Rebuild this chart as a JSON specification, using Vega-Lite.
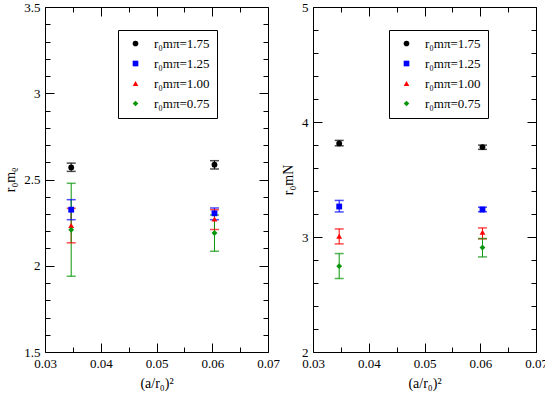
{
  "$schema": "https://vega.github.io/schema/vega-lite/v6.json",
  "padding": {"left": 3, "top": 0, "right": 0, "bottom": 0},
  "bounds": "flush",
  "spacing": 45,
  "config": {
    "font": "Liberation Serif, Times New Roman, DejaVu Serif, serif",
    "view": {"stroke": "black", "strokeWidth": 1},
    "axis": {"labelFont": "Liberation Serif, Times New Roman, DejaVu Serif, serif", "titleFont": "Liberation Serif, Times New Roman, DejaVu Serif, serif", "labelColor": "black", "titleColor": "black", "labelFontSize": 13, "titleFontSize": 14, "titleFontWeight": "normal", "grid": false, "tickColor": "black", "domain": false}
  },
  "resolve": {"scale": {"x": "independent", "y": "independent"}, "legend": {"color": "independent", "shape": "independent"}},
  "datasets": {
    "rho": [
      {"a2": 0.0347, "y": 2.570, "lo": 2.547, "hi": 2.595, "mpi": "1.75"},
      {"a2": 0.0604, "y": 2.586, "lo": 2.561, "hi": 2.609, "mpi": "1.75"},
      {"a2": 0.0347, "y": 2.325, "lo": 2.267, "hi": 2.383, "mpi": "1.25"},
      {"a2": 0.0604, "y": 2.304, "lo": 2.267, "hi": 2.335, "mpi": "1.25"},
      {"a2": 0.0347, "y": 2.233, "lo": 2.133, "hi": 2.333, "mpi": "1.00"},
      {"a2": 0.0604, "y": 2.271, "lo": 2.210, "hi": 2.325, "mpi": "1.00"},
      {"a2": 0.0347, "y": 2.208, "lo": 1.939, "hi": 2.478, "mpi": "0.75"},
      {"a2": 0.0604, "y": 2.190, "lo": 2.084, "hi": 2.294, "mpi": "0.75"}
    ],
    "nuc": [
      {"a2": 0.0347, "y": 3.814, "lo": 3.793, "hi": 3.840, "mpi": "1.75"},
      {"a2": 0.0604, "y": 3.782, "lo": 3.762, "hi": 3.799, "mpi": "1.75"},
      {"a2": 0.0347, "y": 3.265, "lo": 3.218, "hi": 3.318, "mpi": "1.25"},
      {"a2": 0.0604, "y": 3.239, "lo": 3.220, "hi": 3.259, "mpi": "1.25"},
      {"a2": 0.0347, "y": 3.007, "lo": 2.940, "hi": 3.070, "mpi": "1.00"},
      {"a2": 0.0604, "y": 3.042, "lo": 2.984, "hi": 3.079, "mpi": "1.00"},
      {"a2": 0.0347, "y": 2.746, "lo": 2.639, "hi": 2.856, "mpi": "0.75"},
      {"a2": 0.0604, "y": 2.908, "lo": 2.827, "hi": 2.987, "mpi": "0.75"}
    ]
  },
  "hconcat": [
    {
      "width": 223,
      "height": 345,
      "data": {"name": "rho"},
      "resolve": {"axis": {"x": "independent", "y": "independent"}},
      "layer": [
        {
          "mark": {"type": "rule", "strokeWidth": 1},
          "encoding": {
            "x": {"field": "a2", "type": "quantitative", "scale": {"domain": [0.03, 0.07], "nice": false, "zero": false},
              "axis": {"orient": "bottom", "values": [0.03, 0.04, 0.05, 0.06, 0.07], "format": ".2f", "ticks": false, "labelPadding": 5, "labelFlush": false, "labelOverlap": false, "title": "(a/r₀)²", "titlePadding": 6}},
            "y": {"field": "lo", "type": "quantitative", "scale": {"domain": [1.5, 3.5], "nice": false, "zero": false},
              "axis": {"orient": "left", "values": [1.5, 2, 2.5, 3, 3.5], "format": "~g", "ticks": false, "labelPadding": 5, "labelFlush": false, "labelOverlap": false, "title": "r₀mᵨ", "titlePadding": 6}},
            "y2": {"field": "hi"},
            "stroke": {"field": "mpi", "type": "nominal", "scale": {"domain": ["1.75", "1.25", "1.00", "0.75"], "range": ["#000000", "#0000ff", "#ff0000", "#0a960a"]}, "legend": null}
          }
        },
        {
          "mark": {"type": "tick", "orient": "horizontal", "size": 9, "thickness": 1.5},
          "encoding": {
            "x": {"field": "a2", "type": "quantitative", "axis": null},
            "y": {"field": "lo", "type": "quantitative", "axis": null},
            "fill": {"field": "mpi", "type": "nominal", "scale": {"domain": ["1.75", "1.25", "1.00", "0.75"], "range": ["#000000", "#0000ff", "#ff0000", "#0a960a"]}, "legend": null}
          }
        },
        {
          "mark": {"type": "tick", "orient": "horizontal", "size": 9, "thickness": 1.5},
          "encoding": {
            "x": {"field": "a2", "type": "quantitative", "axis": null},
            "y": {"field": "hi", "type": "quantitative", "axis": null},
            "fill": {"field": "mpi", "type": "nominal", "legend": null}
          }
        },
        {
          "mark": {"type": "point", "filled": true, "opacity": 1, "size": 34},
          "encoding": {
            "x": {"field": "a2", "type": "quantitative", "axis": null},
            "y": {"field": "y", "type": "quantitative", "axis": null},
            "color": {"field": "mpi", "type": "nominal", "scale": {"domain": ["1.75", "1.25", "1.00", "0.75"], "range": ["#000000", "#0000ff", "#ff0000", "#0a960a"]},
              "legend": {"orient": "none", "legendX": 73, "legendY": 23, "title": null, "strokeColor": "black", "fillColor": "white", "padding": 7, "labelFont": "Liberation Serif, Times New Roman, DejaVu Serif, serif", "labelFontSize": 13, "labelColor": "black", "symbolSize": 32, "symbolOffset": 4, "labelOffset": 12, "rowPadding": 6, "symbolStrokeWidth": 0, "labelExpr": "'r₀mπ=' + datum.label"}},
            "shape": {"field": "mpi", "type": "nominal", "scale": {"domain": ["1.75", "1.25", "1.00", "0.75"], "range": ["circle", "square", "triangle-up", "diamond"]},
              "legend": {"orient": "none", "legendX": 73, "legendY": 23, "title": null, "strokeColor": "black", "fillColor": "white", "padding": 7, "labelFont": "Liberation Serif, Times New Roman, DejaVu Serif, serif", "labelFontSize": 13, "labelColor": "black", "symbolSize": 32, "symbolOffset": 4, "labelOffset": 12, "rowPadding": 6, "symbolStrokeWidth": 0, "labelExpr": "'r₀mπ=' + datum.label"}}
          }
        },
        {
          "mark": {"type": "point", "opacity": 0},
          "encoding": {
            "x": {"field": "a2", "type": "quantitative", "axis": {"orient": "bottom", "values": [0.03, 0.04, 0.05, 0.06, 0.07], "labels": false, "title": null, "tickSize": -9, "tickWidth": 1}},
            "y": {"field": "y", "type": "quantitative", "axis": {"orient": "left", "values": [1.5, 2, 2.5, 3, 3.5], "labels": false, "title": null, "tickSize": -9, "tickWidth": 1}}
          }
        },
        {
          "mark": {"type": "point", "opacity": 0},
          "encoding": {
            "x": {"field": "a2", "type": "quantitative", "axis": {"orient": "bottom", "values": [0.035, 0.045, 0.055, 0.065], "labels": false, "title": null, "tickSize": -5, "tickWidth": 1}},
            "y": {"field": "y", "type": "quantitative", "axis": {"orient": "left", "values": [1.6, 1.7, 1.8, 1.9, 2.1, 2.2, 2.3, 2.4, 2.6, 2.7, 2.8, 2.9, 3.1, 3.2, 3.3, 3.4], "labels": false, "title": null, "tickSize": -5, "tickWidth": 1}}
          }
        },
        {
          "mark": {"type": "point", "opacity": 0},
          "encoding": {
            "x": {"field": "a2", "type": "quantitative", "axis": {"orient": "top", "values": [0.03, 0.04, 0.05, 0.06, 0.07], "labels": false, "title": null, "tickSize": -9, "tickWidth": 1}},
            "y": {"field": "y", "type": "quantitative", "axis": {"orient": "right", "values": [1.5, 2, 2.5, 3, 3.5], "labels": false, "title": null, "tickSize": -9, "tickWidth": 1}}
          }
        },
        {
          "mark": {"type": "point", "opacity": 0},
          "encoding": {
            "x": {"field": "a2", "type": "quantitative", "axis": {"orient": "top", "values": [0.035, 0.045, 0.055, 0.065], "labels": false, "title": null, "tickSize": -5, "tickWidth": 1}},
            "y": {"field": "y", "type": "quantitative", "axis": {"orient": "right", "values": [1.6, 1.7, 1.8, 1.9, 2.1, 2.2, 2.3, 2.4, 2.6, 2.7, 2.8, 2.9, 3.1, 3.2, 3.3, 3.4], "labels": false, "title": null, "tickSize": -5, "tickWidth": 1}}
          }
        }
      ]
    },
    {
      "width": 223,
      "height": 345,
      "data": {"name": "nuc"},
      "resolve": {"axis": {"x": "independent", "y": "independent"}},
      "layer": [
        {
          "mark": {"type": "rule", "strokeWidth": 1},
          "encoding": {
            "x": {"field": "a2", "type": "quantitative", "scale": {"domain": [0.03, 0.07], "nice": false, "zero": false},
              "axis": {"orient": "bottom", "values": [0.03, 0.04, 0.05, 0.06, 0.07], "format": ".2f", "ticks": false, "labelPadding": 5, "labelFlush": false, "labelOverlap": false, "title": "(a/r₀)²", "titlePadding": 6}},
            "y": {"field": "lo", "type": "quantitative", "scale": {"domain": [2, 5], "nice": false, "zero": false},
              "axis": {"orient": "left", "values": [2, 3, 4, 5], "format": "~g", "ticks": false, "labelPadding": 5, "labelFlush": false, "labelOverlap": false, "title": "r₀mN", "titlePadding": 6}},
            "y2": {"field": "hi"},
            "stroke": {"field": "mpi", "type": "nominal", "scale": {"domain": ["1.75", "1.25", "1.00", "0.75"], "range": ["#000000", "#0000ff", "#ff0000", "#0a960a"]}, "legend": null}
          }
        },
        {
          "mark": {"type": "tick", "orient": "horizontal", "size": 9, "thickness": 1.5},
          "encoding": {
            "x": {"field": "a2", "type": "quantitative", "axis": null},
            "y": {"field": "lo", "type": "quantitative", "axis": null},
            "fill": {"field": "mpi", "type": "nominal", "scale": {"domain": ["1.75", "1.25", "1.00", "0.75"], "range": ["#000000", "#0000ff", "#ff0000", "#0a960a"]}, "legend": null}
          }
        },
        {
          "mark": {"type": "tick", "orient": "horizontal", "size": 9, "thickness": 1.5},
          "encoding": {
            "x": {"field": "a2", "type": "quantitative", "axis": null},
            "y": {"field": "hi", "type": "quantitative", "axis": null},
            "fill": {"field": "mpi", "type": "nominal", "legend": null}
          }
        },
        {
          "mark": {"type": "point", "filled": true, "opacity": 1, "size": 34},
          "encoding": {
            "x": {"field": "a2", "type": "quantitative", "axis": null},
            "y": {"field": "y", "type": "quantitative", "axis": null},
            "color": {"field": "mpi", "type": "nominal", "scale": {"domain": ["1.75", "1.25", "1.00", "0.75"], "range": ["#000000", "#0000ff", "#ff0000", "#0a960a"]},
              "legend": {"orient": "none", "legendX": 76, "legendY": 23, "title": null, "strokeColor": "black", "fillColor": "white", "padding": 7, "labelFont": "Liberation Serif, Times New Roman, DejaVu Serif, serif", "labelFontSize": 13, "labelColor": "black", "symbolSize": 32, "symbolOffset": 4, "labelOffset": 12, "rowPadding": 6, "symbolStrokeWidth": 0, "labelExpr": "'r₀mπ=' + datum.label"}},
            "shape": {"field": "mpi", "type": "nominal", "scale": {"domain": ["1.75", "1.25", "1.00", "0.75"], "range": ["circle", "square", "triangle-up", "diamond"]},
              "legend": {"orient": "none", "legendX": 76, "legendY": 23, "title": null, "strokeColor": "black", "fillColor": "white", "padding": 7, "labelFont": "Liberation Serif, Times New Roman, DejaVu Serif, serif", "labelFontSize": 13, "labelColor": "black", "symbolSize": 32, "symbolOffset": 4, "labelOffset": 12, "rowPadding": 6, "symbolStrokeWidth": 0, "labelExpr": "'r₀mπ=' + datum.label"}}
          }
        },
        {
          "mark": {"type": "point", "opacity": 0},
          "encoding": {
            "x": {"field": "a2", "type": "quantitative", "axis": {"orient": "bottom", "values": [0.03, 0.04, 0.05, 0.06, 0.07], "labels": false, "title": null, "tickSize": -9, "tickWidth": 1}},
            "y": {"field": "y", "type": "quantitative", "axis": {"orient": "left", "values": [2, 3, 4, 5], "labels": false, "title": null, "tickSize": -9, "tickWidth": 1}}
          }
        },
        {
          "mark": {"type": "point", "opacity": 0},
          "encoding": {
            "x": {"field": "a2", "type": "quantitative", "axis": {"orient": "bottom", "values": [0.035, 0.045, 0.055, 0.065], "labels": false, "title": null, "tickSize": -5, "tickWidth": 1}},
            "y": {"field": "y", "type": "quantitative", "axis": {"orient": "left", "values": [2.2, 2.4, 2.6, 2.8, 3.2, 3.4, 3.6, 3.8, 4.2, 4.4, 4.6, 4.8], "labels": false, "title": null, "tickSize": -5, "tickWidth": 1}}
          }
        },
        {
          "mark": {"type": "point", "opacity": 0},
          "encoding": {
            "x": {"field": "a2", "type": "quantitative", "axis": {"orient": "top", "values": [0.03, 0.04, 0.05, 0.06, 0.07], "labels": false, "title": null, "tickSize": -9, "tickWidth": 1}},
            "y": {"field": "y", "type": "quantitative", "axis": {"orient": "right", "values": [2, 3, 4, 5], "labels": false, "title": null, "tickSize": -9, "tickWidth": 1}}
          }
        },
        {
          "mark": {"type": "point", "opacity": 0},
          "encoding": {
            "x": {"field": "a2", "type": "quantitative", "axis": {"orient": "top", "values": [0.035, 0.045, 0.055, 0.065], "labels": false, "title": null, "tickSize": -5, "tickWidth": 1}},
            "y": {"field": "y", "type": "quantitative", "axis": {"orient": "right", "values": [2.2, 2.4, 2.6, 2.8, 3.2, 3.4, 3.6, 3.8, 4.2, 4.4, 4.6, 4.8], "labels": false, "title": null, "tickSize": -5, "tickWidth": 1}}
          }
        }
      ]
    }
  ]
}
